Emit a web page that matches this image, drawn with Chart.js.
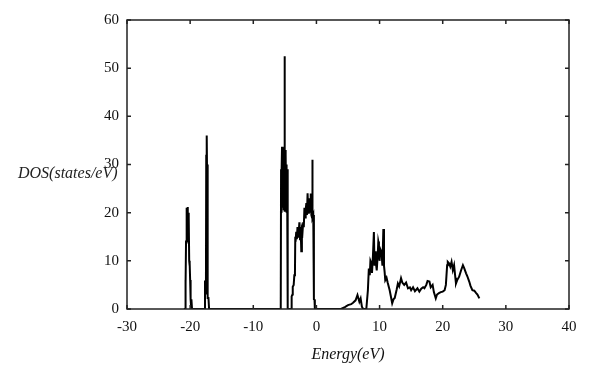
<!DOCTYPE html>
<html>
<head>
<meta charset="utf-8">
<script src="https://cdn.jsdelivr.net/npm/chart.js@4.4.1/dist/chart.umd.min.js"></script>
<style>
  body { margin: 0; background: #fff; }
  #wrap { width: 595px; height: 373px; }
</style>
</head>
<body>
<div id="wrap"><canvas id="myChart" width="595" height="373"></canvas></div>
<script>
// tick labels
const xTicks = [-30, -20, -10, 0, 10, 20, 30, 40];
const yTicks = [0, 10, 20, 30, 40, 50, 60];

// energy (eV) and DOS (states/eV)
const energy = [
  -21.0, -20.8, -20.75, -20.7, -20.65, -20.6, -20.55, -20.5, -20.45, -20.4, -20.35, -20.3, -20.25, -20.2,
  -20.15, -20.1, -20.05, -20.0, -19.95, -19.9, -19.85, -19.8, -19.7,
  -17.7, -17.65, -17.55, -17.5, -17.45, -17.4, -17.35, -17.3, -17.25, -17.2, -17.1, -17.0,
  -5.8, -5.65, -5.6, -5.55, -5.5, -5.45, -5.4, -5.35, -5.3, -5.25, -5.2, -5.15, -5.1, -5.05, -5.0,
  -4.95, -4.9, -4.85, -4.8, -4.75, -4.7, -4.65, -4.55,
  -4.0, -3.95, -3.9, -3.8, -3.75, -3.6, -3.5, -3.4, -3.35, -3.3, -3.2, -3.1, -3.0, -2.9, -2.8, -2.7,
  -2.6, -2.5, -2.4, -2.3, -2.2, -2.1, -2.0, -1.9, -1.8, -1.7, -1.6, -1.5, -1.4, -1.3, -1.2, -1.1,
  -1.0, -0.9, -0.8, -0.7, -0.65, -0.6, -0.5, -0.4, -0.3, -0.25,
  3.9, 4.5, 5.0, 5.5, 5.8, 6.2, 6.5, 6.8, 7.0, 7.2, 7.4, 7.9,
  8.15, 8.3, 8.45, 8.55, 8.7, 8.8, 8.95, 9.1, 9.2, 9.3, 9.4, 9.55, 9.7, 9.8, 9.9, 10.0, 10.1, 10.3,
  10.45, 10.6, 10.7, 10.8, 10.9, 11.1, 11.3, 11.6, 12.0, 12.2, 12.4, 12.7, 12.9, 13.1, 13.4, 13.6,
  13.9, 14.2, 14.5, 14.8, 15.0, 15.3, 15.6, 16.0, 16.3, 16.6, 16.9, 17.1, 17.4, 17.6, 17.9, 18.1,
  18.4, 18.6, 18.9, 19.1, 19.4, 19.7, 20.0, 20.3, 20.5, 20.7, 20.8, 21.0, 21.2, 21.4, 21.6, 21.8,
  22.0, 22.1, 22.3, 22.6, 22.9, 23.2, 23.4, 23.7, 23.9, 24.2, 24.4, 24.7, 25.0, 25.3, 25.5, 25.8
];
const dos = [
  0, 0, 6, 5, 14, 20, 14, 21, 15, 21.2, 14, 20, 13.5, 19,
  10, 9, 9.5, 6, 5, 2, 0.5, 2, 0,
  0, 5.7, 5.7, 3, 32, 26, 36, 25, 30, 2.3, 2.3, 0,
  0, 0, 29, 20, 28, 33.7, 22, 33, 21, 33.5, 20.5, 33, 22, 52.5, 20.2,
  33, 21, 32, 22, 30, 20, 29, 0,
  0, 1.5, 2.6, 3, 4.6, 5, 7, 7.5, 15, 14, 16, 14.5, 17, 15, 16, 18,
  14.5, 17, 12, 16.5, 16, 18, 17, 21, 19, 20.5, 22, 19.5, 24, 20, 23, 20,
  21, 24, 19.5, 19, 31, 19, 19.5, 2, 1.9, 0,
  0, 0.4, 0.8, 1.0, 1.3, 1.8, 2.9, 1.5, 2.2, 0.5, 0, 0,
  3.9, 8.4, 7, 10, 9.5, 7.5, 11, 16, 9, 12, 9.8, 8, 11, 14, 13.3, 10, 12.5, 11.9,
  9, 16.6, 9, 7.7, 6, 6.5, 5.4, 3.9, 1.2, 2, 2.3, 4, 5.3, 4.7, 6.4, 5.5,
  5, 5.5, 4.3, 4.5, 3.9, 4.5, 3.7, 4.3, 3.6, 4.2, 4.5, 4.3, 5, 5.8, 5.7, 4.5,
  5, 3.5, 2.2, 3, 3.3, 3.5, 3.6, 3.9, 5, 9.1, 9.8, 9.5, 8.8, 9.8, 8.1, 9.1,
  6.5, 5.3, 6, 6.7, 8, 9.1, 8.5, 7.4, 6.8, 5.7, 4.8, 3.9, 3.8, 3.3, 3, 2.2
];

const points = energy.map((e, i) => ({ x: e, y: dos[i] }));

const serif = "'Liberation Serif', 'DejaVu Serif', serif";

// box round the plot with inward ticks on all four sides
const framePlugin = {
  id: "frame",
  afterDatasetsDraw(chart) {
    const { ctx, chartArea: a, scales } = chart;
    ctx.save();
    ctx.strokeStyle = "#222";
    ctx.lineWidth = 1.5;
    ctx.strokeRect(a.left, a.top, a.right - a.left, a.bottom - a.top);
    const len = 4;
    ctx.beginPath();
    xTicks.forEach((v) => {
      const px = scales.x.getPixelForValue(v);
      ctx.moveTo(px, a.bottom);
      ctx.lineTo(px, a.bottom - len);
      ctx.moveTo(px, a.top);
      ctx.lineTo(px, a.top + len);
    });
    yTicks.forEach((v) => {
      const py = scales.y.getPixelForValue(v);
      ctx.moveTo(a.left, py);
      ctx.lineTo(a.left + len, py);
      ctx.moveTo(a.right, py);
      ctx.lineTo(a.right - len, py);
    });
    ctx.stroke();

    // horizontal y-axis title
    ctx.fillStyle = "#222";
    ctx.font = "italic 16px " + serif;
    ctx.textAlign = "left";
    ctx.textBaseline = "middle";
    ctx.fillText("DOS(states/eV)", 18, 174);
    ctx.restore();
  },
};

const config = {
  type: "scatter",
  data: {
    datasets: [
      {
        label: "DOS",
        data: points,
        showLine: true,
        borderColor: "#000",
        borderWidth: 2,
        pointRadius: 0,
        tension: 0,
      },
    ],
  },
  options: {
    responsive: false,
    animation: false,
    layout: { padding: { left: 0, right: 26, top: 20, bottom: 0 } },
    plugins: { legend: { display: false }, tooltip: { enabled: false } },
    scales: {
      x: {
        type: "linear",
        min: -30,
        max: 40,
        afterBuildTicks: (s) => { s.ticks = xTicks.map((v) => ({ value: v })); },
        afterFit: (s) => { s.height = 64; },
        grid: { display: false, drawTicks: false },
        border: { display: false },
        ticks: { padding: 9, color: "#111", font: { family: serif, size: 15 } },
        title: {
          display: true,
          text: "Energy(eV)",
          color: "#111",
          font: { family: serif, size: 16, style: "italic" },
          padding: { top: 0, bottom: 9 },
        },
      },
      y: {
        min: 0,
        max: 60,
        afterBuildTicks: (s) => { s.ticks = yTicks.map((v) => ({ value: v })); },
        afterFit: (s) => { s.width = 127; },
        grid: { display: false, drawTicks: false },
        border: { display: false },
        ticks: { padding: 8, color: "#111", font: { family: serif, size: 15 } },
      },
    },
  },
  plugins: [framePlugin],
};

let myChart = new Chart(document.getElementById("myChart"), config);
</script>
</body>
</html>
